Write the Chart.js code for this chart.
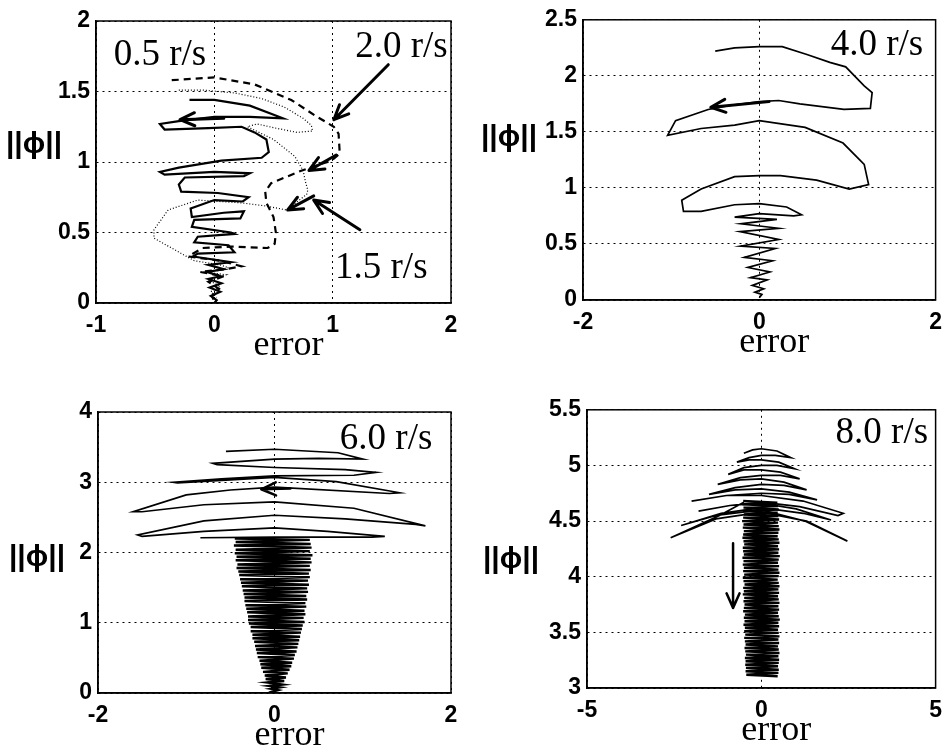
<!DOCTYPE html>
<html>
<head>
<meta charset="utf-8">
<script src="https://cdn.jsdelivr.net/npm/chart.js@4.4.0/dist/chart.umd.min.js"></script>
<style>
  body { margin: 0; background: #fff; width: 951px; height: 755px; position: relative; overflow: hidden; }
  canvas { position: absolute; }
</style>
</head>
<body>
<canvas id="c1" width="475" height="390" style="left:0;top:0"></canvas>
<canvas id="c2" width="476" height="390" style="left:475px;top:0"></canvas>
<canvas id="c3" width="475" height="365" style="left:0;top:390px"></canvas>
<canvas id="c4" width="476" height="365" style="left:475px;top:390px"></canvas>
<script>
// Phase-plane trajectories: error vs ||phi||, one panel per input frequency

// tick labels
const ticksX1 = [-1, 0, 1, 2];
const ticksY1 = [0, 0.5, 1, 1.5, 2];
const ticksX2 = [-2, 0, 2];
const ticksY2 = [0, 0.5, 1, 1.5, 2, 2.5];
const ticksX3 = [-2, 0, 2];
const ticksY3 = [0, 1, 2, 3, 4];
const ticksX4 = [-5, 0, 5];
const ticksY4 = [3, 3.5, 4, 4.5, 5, 5.5];

const speeds = ['0.5 r/s', '1.5 r/s', '2.0 r/s', '4.0 r/s', '6.0 r/s', '8.0 r/s'];

// 0.5 r/s (solid)
const err05 = [-0.21, 0, 0.3, 0.58, 0.3, 0, -0.3, -0.46, -0.42, -0.05, 0.23, 0.34, 0.44, 0.46, 0.40, 0.06, -0.30, -0.46, -0.42, 0, 0.30, 0.25, -0.25, -0.30, -0.28, 0.03, 0.29, 0.24, 0, -0.20, -0.19, 0.08, 0.25, 0.22, -0.17, -0.19, 0.14, 0.17, -0.14, -0.17, 0.12, 0.17, -0.14, -0.18, 0.14, -0.05, 0.08, -0.06, 0.05, -0.05, 0.06, -0.04, 0.05, -0.03, 0.02, 0];
const phi05 = [1.44, 1.44, 1.40, 1.31, 1.32, 1.32, 1.29, 1.27, 1.23, 1.24, 1.25, 1.21, 1.16, 1.07, 1.03, 1.01, 0.96, 0.93, 0.91, 0.93, 0.92, 0.90, 0.89, 0.84, 0.79, 0.78, 0.75, 0.72, 0.73, 0.67, 0.61, 0.64, 0.65, 0.60, 0.59, 0.54, 0.50, 0.49, 0.47, 0.43, 0.41, 0.36, 0.35, 0.33, 0.29, 0.27, 0.24, 0.22, 0.19, 0.17, 0.14, 0.11, 0.08, 0.05, 0.02, 0];

// 1.5 r/s (dotted)
const err15 = [-0.30, -0.10, 0.17, 0.40, 0.59, 0.75, 0.82, 0.83, 0.70, 0.52, 0.36, 0.28, 0.50, 0.62, 0.68, 0.75, 0.77, 0.79, 0.78, 0.61, 0.42, 0.23, -0.14, -0.39, -0.51, -0.51, -0.34, -0.17, 0.05, 0.12, -0.08, 0.10, -0.05, 0.05, -0.03, 0.02];
const phi15 = [1.51, 1.51, 1.49, 1.45, 1.39, 1.31, 1.26, 1.22, 1.21, 1.24, 1.27, 1.25, 1.16, 1.08, 1.04, 0.94, 0.86, 0.80, 0.77, 0.66, 0.69, 0.71, 0.73, 0.66, 0.52, 0.46, 0.38, 0.30, 0.27, 0.25, 0.22, 0.20, 0.16, 0.12, 0.08, 0.04];

// 2.0 r/s (dashed)
const err20 = [-0.36, 0, 0.34, 0.65, 0.85, 1.01, 1.05, 1.06, 0.99, 0.74, 0.48, 0.43, 0.44, 0.50, 0.52, 0.51, 0.45, 0.14, -0.10, -0.22, 0.05, 0.23, 0.10, -0.12, 0.08, -0.05, 0.04, -0.02, 0];
const phi20 = [1.58, 1.60, 1.55, 1.44, 1.33, 1.25, 1.20, 1.06, 1.01, 0.94, 0.85, 0.79, 0.71, 0.61, 0.50, 0.42, 0.39, 0.40, 0.39, 0.33, 0.30, 0.26, 0.24, 0.22, 0.19, 0.15, 0.10, 0.05, 0.01];

// 4.0 r/s
const err40 = [-0.50, -0.28, 0, 0.26, 0.54, 0.80, 0.98, 1.19, 1.28, 1.26, 0.96, 0.46, 0.22, 0, -0.30, -0.58, -0.95, -1.04, -0.66, -0.28, 0, 0.52, 0.95, 1.19, 1.24, 1.02, 0.65, 0.24, 0, -0.28, -0.66, -0.88, -0.86, -0.66, -0.28, 0, 0.31, 0.48, 0.39, 0, -0.28, 0.20, -0.21, 0.22, -0.22, 0.22, -0.21, 0.18, -0.17, 0.15, -0.13, 0.12, -0.10, 0.09, -0.08, 0.05, -0.05, 0.03, 0];
const phi40 = [2.22, 2.25, 2.26, 2.26, 2.19, 2.12, 2.08, 1.91, 1.85, 1.71, 1.70, 1.75, 1.78, 1.77, 1.74, 1.70, 1.60, 1.47, 1.53, 1.56, 1.60, 1.54, 1.40, 1.21, 1.03, 0.99, 1.07, 1.11, 1.11, 1.10, 0.99, 0.89, 0.79, 0.79, 0.85, 0.86, 0.83, 0.76, 0.75, 0.77, 0.74, 0.72, 0.68, 0.64, 0.61, 0.54, 0.48, 0.46, 0.38, 0.35, 0.29, 0.25, 0.20, 0.18, 0.13, 0.10, 0.07, 0.05, 0.02];

// 6.0 r/s, outer sweeps then the dense core
const err60 = [-0.55, 0, 0.72, 1.0, 0.5, 0, -0.70, -0.65, 0, 0.8, 1.15, 0.9, 0, -0.6, -1.15, -1.1, 0, 0.7, 1.42, 1.3, 0, -0.5, -1.0, -1.6, -1.5, -0.8, 0, 0.9, 1.71, 1.6, 0.8, 0, -0.8, -1.55, -1.5, -0.8, 0, 0.6, 1.25, 1.1, 0, -0.84];
const phi60 = [3.44, 3.47, 3.42, 3.33, 3.34, 3.33, 3.27, 3.25, 3.21, 3.18, 3.14, 3.10, 3.09, 3.05, 3.00, 2.99, 3.07, 3.01, 2.85, 2.84, 2.93, 2.89, 2.82, 2.58, 2.58, 2.68, 2.72, 2.63, 2.38, 2.40, 2.48, 2.53, 2.45, 2.25, 2.23, 2.30, 2.35, 2.30, 2.23, 2.22, 2.22, 2.21];
const err60c = [-0.45, 0.40, -0.44, 0.41, -0.46, 0.42, -0.44, 0.40, -0.45, 0.43, -0.43, 0.41, -0.44, 0.42, -0.42, 0.40, -0.43, 0.41, -0.41, 0.39, -0.40, 0.40, -0.39, 0.38, -0.38, 0.39, -0.37, 0.37, -0.36, 0.38, -0.35, 0.36, -0.34, 0.37, -0.34, 0.35, -0.33, 0.36, -0.32, 0.34, -0.31, 0.35, -0.30, 0.33, -0.30, 0.34, -0.29, 0.32, -0.27, 0.31, -0.27, 0.30, -0.25, 0.29, -0.25, 0.28, -0.23, 0.27, -0.22, 0.26, -0.21, 0.25, -0.20, 0.23, -0.19, 0.22, -0.17, 0.20, -0.16, 0.19, -0.15, 0.17, -0.13, 0.15, -0.11, 0.13, -0.10, 0.11, -0.08, 0.09, -0.06, 0.06, -0.04, 0.04, -0.02, 0.01];
const phi60c = [2.20, 2.18, 2.15, 2.12, 2.10, 2.07, 2.04, 2.02, 1.99, 1.96, 1.94, 1.91, 1.89, 1.86, 1.83, 1.81, 1.78, 1.75, 1.73, 1.70, 1.68, 1.65, 1.62, 1.60, 1.57, 1.54, 1.52, 1.49, 1.46, 1.44, 1.41, 1.38, 1.36, 1.33, 1.31, 1.28, 1.25, 1.23, 1.20, 1.17, 1.15, 1.12, 1.09, 1.07, 1.04, 1.01, 0.99, 0.96, 0.94, 0.91, 0.88, 0.86, 0.83, 0.80, 0.78, 0.75, 0.73, 0.70, 0.67, 0.65, 0.62, 0.59, 0.57, 0.54, 0.51, 0.49, 0.46, 0.43, 0.41, 0.38, 0.36, 0.33, 0.30, 0.28, 0.25, 0.22, 0.20, 0.17, 0.15, 0.12, 0.10, 0.08, 0.06, 0.04, 0.02, 0.01];

// 8.0 r/s, umbrella arcs then the dense column
const err80 = [-0.50, -0.25, 0, 0.45, 0.85, 0.40, 0, -0.35, -0.70, -0.35, 0, 0.50, 0.95, 0.45, 0, -0.50, -0.95, -0.50, 0, 0.55, 1.10, 0.55, 0, -0.60, -1.25, -0.60, 0, 0.65, 1.30, 0.65, 0, -0.75, -1.50, -0.75, 0, 0.80, 1.60, 0.80, 0, -1.00, -2.00, -1.00, 0, 1.20, 2.35, 2.20, 1.10, 0, -0.90, -1.80, -0.90, 0, 1.00, 2.00, 1.20, 0, -1.15, -2.30, -1.30, 0, 1.25, 2.47, 1.30, 0, -1.30, -2.60, -1.20, -0.50];
const phi80 = [5.11, 5.14, 5.15, 5.13, 5.07, 5.09, 5.09, 5.07, 5.03, 5.05, 5.05, 5.03, 4.97, 5.00, 5.00, 4.98, 4.92, 4.96, 4.96, 4.94, 4.88, 4.91, 4.91, 4.89, 4.83, 4.87, 4.88, 4.85, 4.78, 4.82, 4.83, 4.80, 4.74, 4.78, 4.79, 4.76, 4.69, 4.74, 4.75, 4.73, 4.68, 4.73, 4.73, 4.68, 4.57, 4.55, 4.63, 4.67, 4.64, 4.59, 4.64, 4.66, 4.61, 4.51, 4.57, 4.62, 4.57, 4.46, 4.55, 4.60, 4.50, 4.32, 4.50, 4.58, 4.52, 4.35, 4.55, 4.67];
const err80c = [-0.52, 0.46, -0.54, 0.48, -0.51, 0.50, -0.53, 0.47, -0.50, 0.49, -0.52, 0.51, -0.55, 0.48, -0.51, 0.50, -0.53, 0.52, -0.50, 0.49,
  -0.52, 0.47, -0.54, 0.50, -0.51, 0.52, -0.49, 0.48, -0.53, 0.51, -0.52, 0.49, -0.50, 0.53, -0.54, 0.50, -0.51, 0.48, -0.53, 0.51,
  -0.50, 0.49, -0.52, 0.52, -0.49, 0.50, -0.53, 0.47, -0.51, 0.50, -0.48, 0.52, -0.52, 0.49, -0.50, 0.51, -0.53, 0.48, -0.49, 0.50,
  -0.51, 0.52, -0.48, 0.49, -0.50, 0.51, -0.52, 0.48, -0.47, 0.50, -0.50, 0.53, -0.48, 0.49, -0.51, 0.51, -0.47, 0.48, -0.49, 0.50,
  -0.46, 0.52, -0.49, 0.49, -0.47, 0.51, -0.45, 0.48, -0.48, 0.50, -0.46, 0.52, -0.44, 0.49, -0.47, 0.51, -0.45, 0.50, -0.46, 0.48,
  -0.44, 0.50, -0.45, 0.49, -0.43, 0.47];
const phi80c = [4.68, 4.666, 4.651, 4.635, 4.621, 4.604, 4.590, 4.576, 4.559, 4.545, 4.531, 4.514, 4.500, 4.486, 4.469, 4.455, 4.441, 4.424, 4.410, 4.395,
  4.380, 4.364, 4.350, 4.336, 4.319, 4.305, 4.291, 4.274, 4.260, 4.246, 4.229, 4.215, 4.200, 4.185, 4.170, 4.154, 4.140, 4.126, 4.109, 4.095,
  4.081, 4.064, 4.050, 4.036, 4.019, 4.005, 3.991, 3.974, 3.960, 3.945, 3.930, 3.914, 3.900, 3.886, 3.869, 3.855, 3.841, 3.824, 3.810, 3.796,
  3.779, 3.765, 3.750, 3.735, 3.720, 3.704, 3.690, 3.676, 3.659, 3.645, 3.631, 3.614, 3.600, 3.586, 3.569, 3.555, 3.541, 3.524, 3.510, 3.495,
  3.480, 3.464, 3.450, 3.436, 3.419, 3.405, 3.391, 3.374, 3.360, 3.346, 3.329, 3.315, 3.300, 3.285, 3.270, 3.254, 3.240, 3.226, 3.209, 3.195,
  3.181, 3.164, 3.150, 3.136, 3.119, 3.105];

// direction arrows [x1, y1, x2, y2] in data units (tail -> tip)
const arrows1 = [[1.47, 1.69, 1.01, 1.30], [1.03, 1.05, 0.80, 0.94], [0.84, 0.76, 0.62, 0.66], [1.23, 0.52, 0.84, 0.73], [0.08, 1.31, -0.29, 1.30]];
const arrows2 = [[0.11, 1.77, -0.55, 1.72]];
const arrows3 = [[0.18, 2.91, -0.15, 2.90]];
const arrows4 = [[-0.81, 4.30, -0.81, 3.72]];

function zip(xs, ys) {
  const n = Math.min(xs.length, ys.length);
  const out = [];
  for (let i = 0; i < n; i++) out.push({ x: xs[i], y: ys[i] });
  return out;
}

function line(xs, ys, width, dash) {
  return {
    data: zip(xs, ys),
    showLine: true,
    borderColor: '#000',
    borderWidth: width,
    borderDash: dash || [],
    pointRadius: 0,
    tension: 0
  };
}

function drawArrow(ctx, x1, y1, x2, y2, lw, head) {
  const ang = Math.atan2(y2 - y1, x2 - x1);
  ctx.lineWidth = lw;
  ctx.lineCap = 'round';
  ctx.lineJoin = 'round';
  ctx.beginPath();
  ctx.moveTo(x1, y1);
  ctx.lineTo(x2, y2);
  ctx.moveTo(x2 - head * Math.cos(ang - 0.42), y2 - head * Math.sin(ang - 0.42));
  ctx.lineTo(x2, y2);
  ctx.lineTo(x2 - head * Math.cos(ang + 0.42), y2 - head * Math.sin(ang + 0.42));
  ctx.stroke();
}

const overlay = {
  id: 'overlay',
  afterDatasetsDraw(chart, args, opts) {
    const { ctx, chartArea: a } = chart;
    const sx = chart.scales.x, sy = chart.scales.y;
    ctx.save();
    ctx.strokeStyle = '#000';
    ctx.fillStyle = '#000';
    ctx.lineWidth = 1.5;
    ctx.strokeRect(a.left, a.top, a.right - a.left, a.bottom - a.top);

    opts.arrows.forEach(r => {
      drawArrow(ctx, sx.getPixelForValue(r[0]), sy.getPixelForValue(r[1]),
        sx.getPixelForValue(r[2]), sy.getPixelForValue(r[3]), opts.arrowWidth, 16);
    });

    ctx.font = '37px "Liberation Serif", "Times New Roman", serif';
    ctx.textAlign = 'left';
    ctx.textBaseline = 'alphabetic';
    opts.notes.forEach(n => {
      ctx.fillText(n.text, sx.getPixelForValue(n.x), sy.getPixelForValue(n.y));
    });

    ctx.textAlign = 'center';
    ctx.font = '36px "Liberation Serif", "Times New Roman", serif';
    ctx.fillText('error', (a.left + a.right) / 2 + 15, a.bottom + 52);

    ctx.textBaseline = 'middle';
    ctx.font = 'bold 30px "Liberation Sans", "DejaVu Sans", sans-serif';
    ctx.fillText('||\u03D5||', opts.yTitle[0], opts.yTitle[1]);
    ctx.restore();
  }
};

function makePanel(id, p) {
  const tickFont = { family: '"Liberation Sans", Arial, sans-serif', size: 23, weight: 'bold' };
  const axis = (ticks, fit, isX) => ({
    type: 'linear',
    min: ticks[0],
    max: ticks[ticks.length - 1],
    afterBuildTicks: s => { s.ticks = ticks.map(v => ({ value: v })); },
    afterFit: fit,
    grid: { color: '#000', lineWidth: 1, drawTicks: false },
    border: { display: true, color: '#000', width: 1.5, dash: [2, 4] },
    ticks: {
      color: '#000', font: tickFont, autoSkip: false, maxRotation: 0,
      padding: isX ? 9 : 6,
      callback: v => String(v)
    }
  });

  return new Chart(document.getElementById(id), {
    type: 'scatter',
    data: { datasets: p.datasets },
    options: {
      responsive: false,
      animation: false,
      layout: { padding: { top: p.top, right: p.right, left: 0, bottom: 0 } },
      plugins: {
        legend: { display: false },
        tooltip: { enabled: false },
        overlay: { arrows: p.arrows, notes: p.notes, yTitle: p.yTitle, arrowWidth: p.arrowWidth }
      },
      scales: {
        x: axis(p.ticksX, s => { s.height = p.xh; }, true),
        y: axis(p.ticksY, s => { s.width = p.yw; }, false)
      }
    },
    plugins: [overlay]
  });
}

makePanel('c1', {
  ticksX: ticksX1, ticksY: ticksY1, top: 21, right: 24, yw: 96, xh: 87,
  datasets: [
    line(err15, phi15, 1.2, [1, 2]),
    line(err20, phi20, 2.2, [7, 5]),
    line(err05, phi05, 2.2)
  ],
  arrows: arrows1, arrowWidth: 3,
  notes: [
    { text: speeds[0], x: -0.85, y: 1.69 },
    { text: speeds[2], x: 1.19, y: 1.745 },
    { text: speeds[1], x: 1.02, y: 0.18 }
  ],
  yTitle: [34, 145]
});

makePanel('c2', {
  ticksX: ticksX2, ticksY: ticksY2, top: 15, right: 11, yw: 108, xh: 90,
  datasets: [line(err40, phi40, 1.7)],
  arrows: arrows2, arrowWidth: 3,
  notes: [{ text: speeds[3], x: 0.81, y: 2.19 }],
  yTitle: [34, 138]
});

makePanel('c3', {
  ticksX: ticksX3, ticksY: ticksY3, top: 22, right: 24, yw: 98, xh: 62,
  datasets: [line(err60, phi60, 1.7), line(err60c, phi60c, 2.4)],
  arrows: arrows3, arrowWidth: 2.5,
  notes: [{ text: speeds[4], x: 0.74, y: 3.47 }],
  yTitle: [37, 168]
});

makePanel('c4', {
  ticksX: ticksX4, ticksY: ticksY4, top: 17, right: 8, yw: 112, xh: 67,
  datasets: [line(err80, phi80, 1.7), line(err80c, phi80c, 2.4)],
  arrows: arrows4, arrowWidth: 2.5,
  notes: [{ text: speeds[5], x: 2.13, y: 5.20 }],
  yTitle: [36, 170]
});
</script>
</body>
</html>
